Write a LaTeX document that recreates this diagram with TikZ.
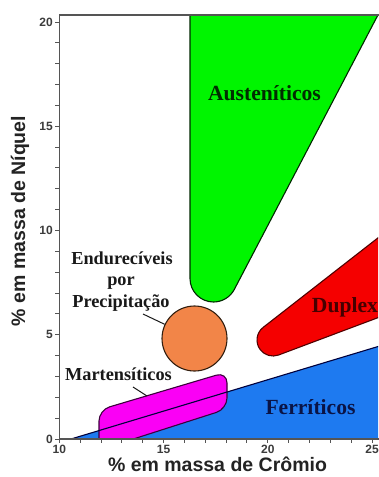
\documentclass[tikz,border=0pt]{standalone}
\usepackage{fontspec}
\setmainfont{Liberation Serif}
\setsansfont{Liberation Sans}
\definecolor{gfill}{RGB}{0,245,0}
\definecolor{bfill}{RGB}{30,122,240}
\definecolor{mfill}{RGB}{250,0,245}
\definecolor{ofill}{RGB}{242,133,72}
\definecolor{rfill}{RGB}{245,0,0}
\definecolor{framec}{RGB}{85,85,85}
\definecolor{tickc}{RGB}{60,60,60}
\definecolor{axc}{RGB}{35,35,35}
\definecolor{labc}{RGB}{25,25,25}
\definecolor{gtxt}{RGB}{0,45,0}
\definecolor{btxt}{RGB}{10,20,70}
\definecolor{rtxt}{RGB}{70,0,0}
\definecolor{gline}{RGB}{0,40,0}
\definecolor{bline}{RGB}{0,0,60}
\definecolor{mline}{RGB}{60,0,60}
\definecolor{oline}{RGB}{50,30,15}
\definecolor{rline}{RGB}{80,0,0}
\begin{document}
\begin{tikzpicture}[x=1pt,y=-1pt,
  region/.style={font=\fontsize{21.6}{24}\selectfont\bfseries, inner sep=0pt},
  lefttxt/.style={font=\fontsize{18.3}{21}\selectfont\bfseries, text=labc, inner sep=0pt},
  ticklab/.style={font=\sffamily\bfseries\fontsize{12}{14}\selectfont, text=tickc, inner sep=0pt},
  axtitle/.style={font=\sffamily\bfseries\fontsize{19.5}{22}\selectfont, text=axc, inner sep=0pt},
  outl/.style={line width=1.1pt, line join=round},
  framel/.style={draw=framec, line width=1.3pt},
  leader/.style={draw=labc, line width=1pt}]
\useasboundingbox (0,0) rectangle (378,477);
\fill[white] (0,0) rectangle (378,477);

\begin{scope}
\clip (59.3,15) rectangle (378,439);
% Ferriticos (blue)
\fill[bfill] (71,439) -- (400,339.9) -- (400,445) -- (71,445) -- cycle;
% Martensiticos (magenta)
\filldraw[fill=mfill, draw=mline, outl, rounded corners=11pt]
  (99,450) -- (99,410) -- (227,372) -- (227,409) -- cycle;
% blue boundary line over magenta
\draw[bline, line width=1.1pt] (71,439) -- (400,339.9);
% Austeniticos (green)
\filldraw[fill=gfill, draw=gline, outl]
  (190,5) -- (190,278.5) arc[start angle=180, end angle=27.6, radius=23.5]
  -- (385.8,0) -- (190,0) -- cycle;
% Duplex (red)
\filldraw[fill=rfill, draw=rline, outl]
  (400,220.7) -- (263.15,327.4) arc[start angle=232, end angle=69.4, radius=16]
  -- (400,309.4) -- cycle;
\end{scope}

% Precipitation hardening (orange circle)
\node[circle, fill=ofill, draw=oline, line width=1.1pt, minimum size=65pt, inner sep=0pt] (prec) at (194.5,338.5) {};

% frame and axes
\draw[framel] (59.3,439) -- (59.3,15) -- (390,15);
\draw[framel] (59.3,439) -- (390,439);
\foreach \n in {0,...,20} {
  \draw[framel, line width=1pt] (55,{439-\n*20.85}) -- (59.3,{439-\n*20.85});
}
\foreach \c in {10,...,25} {
  \draw[framel, line width=1pt] ({59.3+(\c-10)*20.85},439) -- ({59.3+(\c-10)*20.85},443);
}
\foreach \n in {0,5,10,15,20} {
  \node[ticklab, anchor=east] (yl\n) at (53,{439-\n*20.85}) {\n};
}
\foreach \c in {10,15,20,25} {
  \node[ticklab, anchor=north] (xl\c) at ({59.3+(\c-10)*20.85},445) {\c};
}

% axis titles
\node[axtitle, anchor=base] (xtitle) at (217.5,471) {\% em massa de Crômio};
\node[axtitle, anchor=base, rotate=90] (ytitle) at (25,221) {\% em massa de Níquel};

% region labels
\node[region, text=gtxt, anchor=base] (aus) at (264.5,100) {Austeníticos};
\node[region, text=btxt, anchor=base] (fer) at (310.5,414) {Ferríticos};
\node[region, text=rtxt, anchor=base] (dup) at (345,312) {Duplex};

% left labels
\node[lefttxt, anchor=base] (endA) at (122,264) {Endurecíveis};
\node[lefttxt, anchor=base] (endB) at (121,285.5) {por};
\node[lefttxt, anchor=base] (endC) at (121,307) {Precipitação};
\node[lefttxt, anchor=base] (mart) at (118.5,380) {Martensíticos};

% leaders
\coordinate (lp1) at (143,314);
\draw[leader] (lp1) -- (prec);
\coordinate (lm1) at (133,387);
\coordinate (lm2) at (147,396);
\draw[leader] (lm1) -- (lm2);
\end{tikzpicture}
\end{document}
